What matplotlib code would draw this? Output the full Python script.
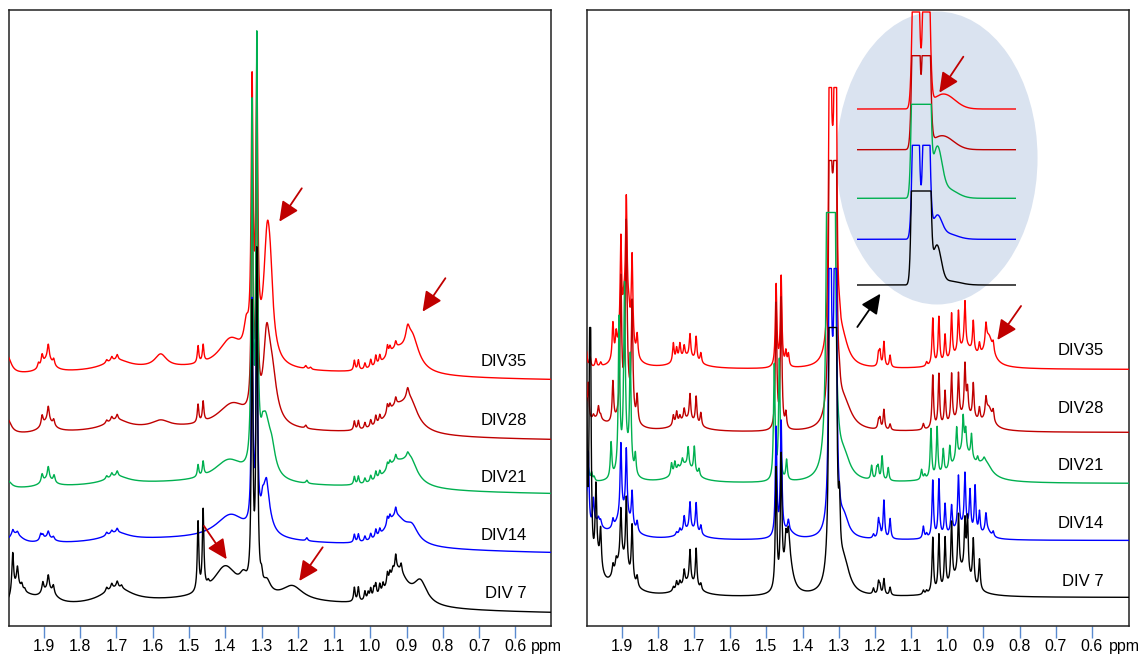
import numpy as np
import matplotlib
matplotlib.use("Agg")
import matplotlib.pyplot as plt
from matplotlib.patches import Ellipse

plt.rcParams['font.family'] = ['Liberation Sans', 'DejaVu Sans']

# spectra from bottom to top
labels = ["DIV 7", "DIV14", "DIV21", "DIV28", "DIV35"]
colors = ["#000000", "#0000ff", "#00b050", "#c00000", "#ff0000"]

# ---------------- left panel: level + lines (ppm, height, half width)
left_base = [9, 68, 128, 182, 242]
left_lines = {
    "DIV 7": [(1.40, 16, 0.5), (0.925, 36, 0.032), (0.862, 22, 0.022), (1.40, 32, 0.04),
              (1.35, 12, 0.012), (1.215, 14, 0.035), (1.285, 12, 0.012), (1.70, 16, 0.05),
              (1.888, 14, 0.025), (1.95, 10, 0.04), (1.975, 14, 0.015),
              (1.986, 40, 0.003), (1.973, 18, 0.003), (1.961, 6, 0.003), (1.953, 3, 0.003),
              (1.903, 10, 0.003), (1.888, 14, 0.003), (1.874, 8, 0.003),
              (1.727, 4, 0.003), (1.713, 5, 0.003), (1.698, 6, 0.003), (1.686, 3, 0.003),
              (1.475, 69, 0.0025), (1.461, 79, 0.0025), (1.447, 4, 0.003),
              (1.326, 277, 0.0025), (1.313, 333, 0.0025), (1.300, 10, 0.003),
              (1.044, 14, 0.0025), (1.033, 14, 0.0025), (1.015, 9, 0.0025), (1.006, 7, 0.0025),
              (0.999, 10, 0.0025), (0.990, 9, 0.0025), (0.985, 12, 0.0025), (0.974, 10, 0.0025),
              (0.965, 8, 0.0025), (0.953, 12, 0.0025), (0.946, 8, 0.0025), (0.938, 6, 0.0025),
              (0.930, 15, 0.0025), (0.915, 8, 0.0025)],
    "DIV14": [(1.5, 18, 0.6), (0.93, 30, 0.035), (0.885, 14, 0.02), (1.288, 50, 0.013),
              (1.385, 24, 0.05), (1.70, 8, 0.04), (1.89, 6, 0.02), (1.98, 12, 0.025),
              (1.986, 5, 0.003), (1.973, 3, 0.003), (1.909, 6, 0.003), (1.903, 4, 0.003),
              (1.888, 6, 0.003), (1.874, 3, 0.003), (1.727, 3, 0.003), (1.713, 3, 0.003),
              (1.698, 4, 0.003), (1.326, 220, 0.0025), (1.313, 220, 0.0025), (1.297, 8, 0.003),
              (1.286, 6, 0.003), (1.175, 3, 0.003), (1.044, 8, 0.0025), (1.033, 8, 0.0025),
              (1.015, 5, 0.0025), (0.999, 6, 0.0025), (0.985, 8, 0.0025), (0.974, 6, 0.0025),
              (0.953, 8, 0.0025), (0.946, 6, 0.0025), (0.930, 8, 0.0025)],
    "DIV21": [(1.5, 14, 0.6), (0.93, 24, 0.04), (0.89, 22, 0.022), (1.29, 55, 0.015),
              (1.272, 22, 0.012), (1.39, 22, 0.05), (1.70, 8, 0.04), (1.89, 8, 0.02),
              (2.0, 8, 0.012),
              (1.905, 8, 0.003), (1.888, 12, 0.003), (1.872, 7, 0.003), (1.727, 3, 0.003),
              (1.713, 4, 0.003), (1.698, 5, 0.003), (1.475, 12, 0.0025), (1.461, 14, 0.0025),
              (1.326, 354, 0.0025), (1.313, 416, 0.0025), (1.297, 6, 0.003), (1.175, 3, 0.003),
              (1.044, 8, 0.0025), (1.033, 8, 0.0025), (1.015, 5, 0.0025), (0.999, 6, 0.0025),
              (0.985, 8, 0.0025), (0.974, 6, 0.0025), (0.953, 6, 0.0025), (0.946, 5, 0.0025),
              (0.930, 6, 0.0025), (0.897, 4, 0.003)],
    "DIV28": [(1.5, 14, 0.6), (0.93, 24, 0.04), (0.89, 26, 0.025), (1.286, 70, 0.01),
              (1.272, 50, 0.016), (1.38, 24, 0.05), (1.578, 7, 0.03), (1.70, 10, 0.04),
              (1.89, 12, 0.02), (2.0, 15, 0.012),
              (1.905, 10, 0.003), (1.888, 14, 0.003), (1.873, 6, 0.003), (1.727, 3, 0.003),
              (1.713, 4, 0.003), (1.698, 5, 0.003), (1.475, 18, 0.0025), (1.461, 20, 0.0025),
              (1.326, 250, 0.0025), (1.313, 300, 0.0025), (1.178, 3, 0.003),
              (1.044, 9, 0.0025), (1.033, 9, 0.0025), (1.015, 6, 0.0025), (0.999, 7, 0.0025),
              (0.985, 9, 0.0025), (0.974, 7, 0.0025), (0.953, 9, 0.0025), (0.946, 6, 0.0025),
              (0.930, 7, 0.0025), (0.897, 10, 0.004)],
    "DIV35": [(1.5, 14, 0.6), (0.93, 22, 0.04), (0.885, 32, 0.022), (0.897, 14, 0.006),
              (1.284, 125, 0.012), (1.275, 36, 0.008), (1.385, 28, 0.04), (1.342, 25, 0.008),
              (1.578, 13, 0.02), (1.70, 10, 0.045), (1.89, 14, 0.018), (2.0, 18, 0.012),
              (1.915, 5, 0.003), (1.905, 10, 0.003), (1.888, 14, 0.003), (1.873, 6, 0.003),
              (1.727, 3, 0.003), (1.713, 4, 0.003), (1.698, 5, 0.003), (1.475, 17, 0.0025),
              (1.461, 17, 0.0025), (1.326, 260, 0.003), (1.313, 280, 0.003), (1.178, 3, 0.003),
              (1.165, 2, 0.003), (1.044, 10, 0.0025), (1.033, 10, 0.0025), (1.015, 6, 0.0025),
              (0.999, 8, 0.0025), (0.985, 10, 0.0025), (0.974, 8, 0.0025), (0.953, 10, 0.0025),
              (0.946, 6, 0.0025), (0.930, 6, 0.0025)],
}

# ---------------- right panel: shared line positions, heights per spectrum
right_base = [28, 85, 142, 193, 256]
right_clip = [270, 272, 271, 272, 282]
right_shift = [0, 0, 0.005, 0, 0]
right_pos = [1.997, 1.992, 1.987, 1.978, 1.971, 1.964, 1.958,
             1.924, 1.915, 1.902, 1.894, 1.887, 1.880, 1.871, 1.857,
             1.757, 1.748, 1.739, 1.727, 1.711, 1.694, 1.681,
             1.473, 1.459, 1.446, 1.439,
             1.324, 1.309, 1.298,
             1.204, 1.190, 1.186, 1.175, 1.158, 1.066, 1.057,
             1.040, 1.023, 1.006, 0.988, 0.969, 0.951, 0.944, 0.937, 0.928, 0.923, 0.911, 0.893, 0.873]
right_narrow = {1.324: 0.002, 1.309: 0.002}
right_h = {
    "DIV 7": [170, 0, 350, 0, 72, 0, 37,
              10, 9, 50, 0, 69, 0, 55, 10,
              4, 8, 6, 14, 32, 38, 6,
              120, 125, 20, 15,
              760, 760, 50,
              6, 12, 8, 16, 8, 4, 3,
              55, 56, 50, 60, 58, 50, 56, 0, 45, 0, 30, 0, 0],
    "DIV14": [25, 75, 0, 25, 0, 5, 5,
              8, 0, 71, 0, 66, 0, 34, 10,
              0, 3, 5, 15, 27, 29, 9,
              108, 112, 0, 10,
              845, 845, 5,
              4, 18, 8, 38, 20, 12, 4,
              57, 57, 31, 27, 52, 54, 0, 40, 0, 47, 22, 17, 5],
    "DIV21": [80, 0, 10, 8, 4, 0, 0,
              35, 0, 150, 0, 165, 0, 110, 20,
              12, 11, 4, 7, 19, 26, 7,
              115, 120, 0, 20,
              1580, 1580, 0,
              14, 10, 12, 24, 13, 10, 4,
              49, 49, 24, 22, 31, 34, 21, 0, 24, 0, 6, 3, 0],
    "DIV28": [15, 38, 0, 4, 0, 12, 4,
              40, 0, 130, 0, 165, 0, 110, 26,
              10, 12, 6, 11, 26, 27, 13,
              125, 130, 15, 0,
              793, 793, 10,
              0, 8, 10, 20, 6, 6, 0,
              53, 53, 34, 49, 45, 50, 25, 0, 35, 0, 13, 17, 10],
    "DIV35": [16, 0, 10, 0, 8, 0, 4,
              36, 20, 99, 10, 107, 10, 87, 22,
              19, 12, 15, 11, 23, 24, 10,
              82, 90, 14, 12,
              847, 847, 8,
              0, 12, 14, 25, 12, 0, 4,
              47, 47, 27, 45, 41, 46, 0, 0, 31, 0, 11, 20, 9],
}
right_broad = {
    "DIV 7": [(1.967, 30, 0.015), (1.90, 35, 0.025), (1.715, 14, 0.03), (1.44, 50, 0.012),
              (1.3165, 180, 0.006), (1.285, 28, 0.018), (0.96, 25, 0.03)],
    "DIV14": [(1.97, 15, 0.02), (1.895, 25, 0.025), (1.712, 10, 0.03), (1.44, 8, 0.02),
              (1.3165, 88, 0.006), (1.285, 18, 0.015), (0.96, 12, 0.03), (0.89, 8, 0.012)],
    "DIV21": [(1.89, 30, 0.014), (1.725, 18, 0.03), (1.3215, 200, 0.006), (1.285, 20, 0.02),
              (0.955, 30, 0.035), (0.895, 15, 0.02)],
    "DIV28": [(1.97, 12, 0.03), (1.888, 40, 0.014), (1.72, 12, 0.035), (1.3165, 144, 0.006),
              (1.285, 25, 0.025), (0.95, 15, 0.04), (0.885, 20, 0.012)],
    "DIV35": [(1.888, 60, 0.014), (1.72, 12, 0.035), (1.3165, 122, 0.006), (1.29, 25, 0.02),
              (0.95, 20, 0.035), (0.885, 28, 0.014)],
}

# ---------------- inset: zoom on the 1.32 ppm doublet
inset_pos = [1.3275, 1.3125]
inset_base = [15, 60.7, 101.7, 150.3, 191]
inset_h = [520, 268, 520, 362, 293]
inset_clip = [94, 94, 94, 94, 97]
inset_side = {
    "DIV 7": [(1.2975, 38, 0.006), (1.28, 4, 0.015)],
    "DIV14": [(1.297, 20, 0.0065), (1.285, 6, 0.015)],
    "DIV21": [(1.297, 45, 0.0065), (1.285, 10, 0.015)],
    "DIV28": [(1.29, 14, 0.016)],
    "DIV35": [(1.288, 15, 0.016)],
}


def lorentz(x, lines):
    y = np.zeros_like(x)
    for c, h, w in lines:
        y += h / (1 + ((x - c) / w) ** 2)
    return y


def gauss(x, lines):
    y = np.zeros_like(x)
    for c, h, s in lines:
        y += h * np.exp(-0.5 * ((x - c) / s) ** 2)
    return y


W, H = 1146, 655
fig = plt.figure(figsize=(W / 100, H / 100), dpi=100)
axL = fig.add_axes([9.1 / W, 29.5 / H, 541.4 / W, 615.5 / H])
axR = fig.add_axes([586.5 / W, 29.5 / H, 542 / W, 615.5 / H])

x = np.linspace(2.01, 0.48, 8000)

for i, lab in enumerate(labels):
    y = left_base[i] + lorentz(x, left_lines[lab])
    axL.plot(x, y, color=colors[i], lw=1.0, zorder=10 - i)

    lines = []
    for p, h in zip(right_pos, right_h[lab]):
        if h > 0:
            lines.append((p + right_shift[i], h, right_narrow.get(p, 0.0025)))
    y = right_base[i] + lorentz(x, lines + right_broad[lab])
    y = np.minimum(y, right_base[i] + right_clip[i])
    axR.plot(x, y, color=colors[i], lw=1.0, zorder=10 - i)

left_label_y = [30.5, 88.2, 146.5, 203.8, 262.2]
right_label_y = [42.8, 100.5, 158.2, 215.5, 273.8]
for i, lab in enumerate(labels):
    axL.text(0.568, left_label_y[i] + 1.5, lab, ha='right', va='center', fontsize=12)
    axR.text(0.567, right_label_y[i] + 1.5, lab, ha='right', va='center', fontsize=12)

axR.add_patch(Ellipse((1.0282, 467.5), 0.5556, 293, facecolor='#dae3f0',
                      edgecolor='none', zorder=0))

red = '#c00000'
arrows_L = [((1.189, 437.2), (1.251, 403.8)), ((0.793, 347.3), (0.856, 313.8)),
            ((1.4586, 99.5), (1.396, 66.2)), ((1.1314, 78.2), (1.196, 44.5))]
arrows_R = [((0.9555, 568.8), (1.0219, 532.8), red), ((1.2485, 298.5), (1.1847, 331.8), 'black'),
            ((0.796, 319.5), (0.8616, 285.5), red)]
for tail, tip in arrows_L:
    axL.annotate('', xy=tip, xytext=tail, zorder=20,
                 arrowprops=dict(arrowstyle='-|>,head_length=0.8,head_width=0.38',
                                 color=red, lw=1.3, mutation_scale=15, shrinkA=0, shrinkB=0))
for tail, tip, c in arrows_R:
    axR.annotate('', xy=tip, xytext=tail, zorder=20,
                 arrowprops=dict(arrowstyle='-|>,head_length=0.8,head_width=0.38',
                                 color=c, lw=1.3, mutation_scale=15, shrinkA=0, shrinkB=0))

ticks = [1.9, 1.8, 1.7, 1.6, 1.5, 1.4, 1.3, 1.2, 1.1, 1.0, 0.9, 0.8, 0.7, 0.6]
for ax, xl, ppm_x in [(axL, (1.996, 0.5032), 0.557), (axR, (1.997, 0.499), 0.554)]:
    ax.set_xlim(*xl)
    ax.set_ylim(0, 615.5)
    ax.set_yticks([])
    ax.set_xticks(ticks)
    ax.set_xticklabels(['%.1f' % t for t in ticks])
    ax.tick_params(axis='x', direction='out', length=8.3, width=1.0, color='#5b8bd0',
                   labelsize=11.5, pad=1.5)
    for s in ax.spines.values():
        s.set_linewidth(1.1)
        s.set_color('#222222')
    ax.text(ppm_x, -(651.0 - 625.5) / 615.5, 'ppm', transform=ax.get_xaxis_transform(),
            ha='left', va='baseline', fontsize=11.5)

# inset traces
axI = fig.add_axes([857.3 / W, 355 / H, 158.4 / W, 290 / H])
axI.axis('off')
xi = np.linspace(1.411, 1.185, 2000)
for i, lab in enumerate(labels):
    core = [(p, inset_h[i], 0.0035) for p in inset_pos]
    y = inset_base[i] + gauss(xi, core + inset_side[lab])
    y = np.minimum(y, inset_base[i] + inset_clip[i])
    axI.plot(xi, y, color=colors[i], lw=1.0, zorder=10 - i)
axI.set_xlim(1.411, 1.185)
axI.set_ylim(0, 290)

fig.savefig('out.png', dpi=100)
